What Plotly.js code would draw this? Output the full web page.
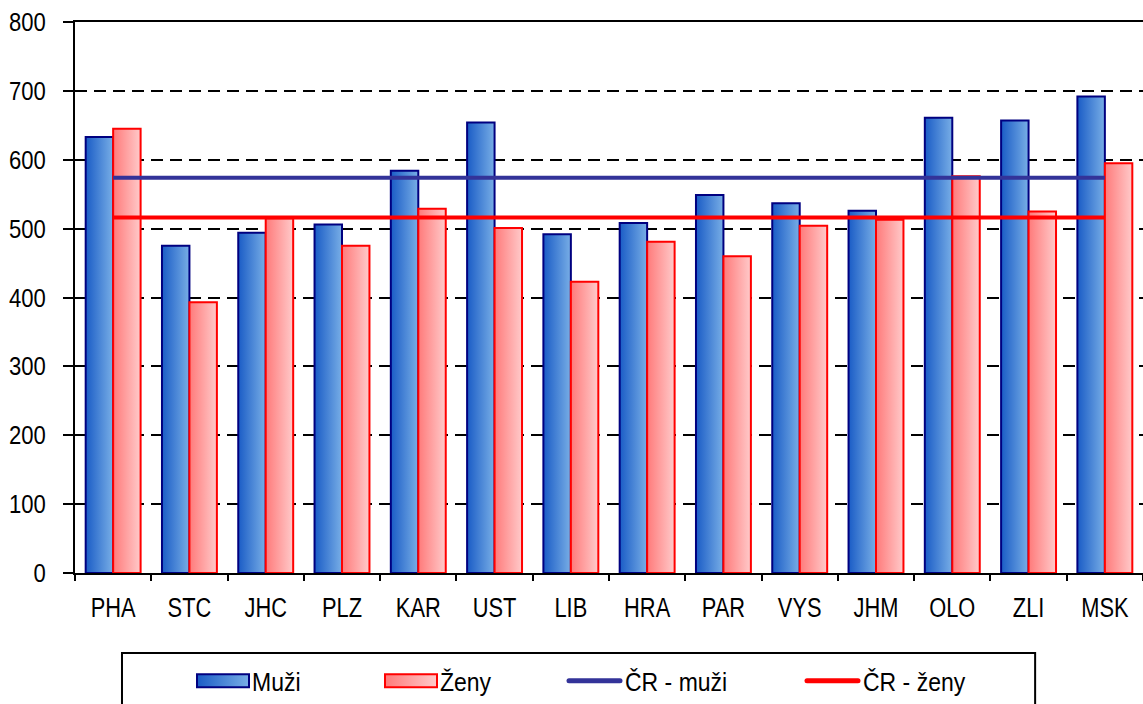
<!DOCTYPE html>
<html>
<head>
<meta charset="utf-8">
<script src="https://cdn.plot.ly/plotly-3.0.1.min.js"></script>
<style>
html,body{margin:0;padding:0;background:#fff;}
#chart{width:1143px;height:704px;}
</style>
</head>
<body>
<div id="chart"></div>
<script>
const categories = ['PHA','STC','JHC','PLZ','KAR','UST','LIB','HRA','PAR','VYS','JHM','OLO','ZLI','MSK'];
const muzi = [633,475,494,506,584,654,492,508,549,537,526,661,657,692];
const zeny = [645,393,515,475,529,501,423,481,460,504,513,576,525,595];
const crMuzi = [574,574,574,574,574,574,574,574,574,574,574,574,574,574];
const crZeny = [516,516,516,516,516,516,516,516,516,516,516,516,516,516];
const seriesNames = ['Muži','Ženy','ČR - muži','ČR - ženy'];

const FONT = '"Liberation Sans", Arial, sans-serif';

const traces = [
  {type:'bar', name:seriesNames[0], x:categories, y:muzi,
   marker:{color:'#4a8ad8', line:{color:'#000080', width:2}}},
  {type:'bar', name:seriesNames[1], x:categories, y:zeny,
   marker:{color:'#ffa3a3', line:{color:'#ff0000', width:2}}},
  {type:'scatter', mode:'lines', name:seriesNames[2], x:categories, y:crMuzi,
   line:{color:'#333399', width:4}},
  {type:'scatter', mode:'lines', name:seriesNames[3], x:categories, y:crZeny,
   line:{color:'#ff0000', width:4}}
];

const layout = {
  width:1143, height:704,
  margin:{l:75, r:0, t:22, b:131},
  paper_bgcolor:'#fff', plot_bgcolor:'#fff',
  font:{family:FONT, size:21, color:'#000'},
  barmode:'group', bargap:0.28, bargroupgap:0,
  showlegend:true,
  legend:{orientation:'h', x:0.095, xanchor:'left', y:-0.155, yanchor:'top',
    font:{family:FONT, size:25, color:'#000'},
    entrywidth:170, entrywidthmode:'pixels', bgcolor:'rgba(0,0,0,0)', borderwidth:0},
  xaxis:{type:'category', showline:true, linecolor:'#000', linewidth:2, mirror:true,
    ticks:'outside', ticklen:6, tickwidth:2, tickcolor:'#000', tickson:'boundaries',
    ticklabelstandoff:8, showgrid:false, zeroline:false,
    tickfont:{family:FONT, size:28}},
  yaxis:{range:[0,800], dtick:100, showline:true, linecolor:'#000', linewidth:2,
    ticks:'outside', ticklen:10, tickwidth:2, tickcolor:'#000', ticklabelstandoff:12,
    showgrid:true, gridcolor:'#000', gridwidth:2, griddash:'12px,7px', zeroline:false,
    tickfont:{family:FONT, size:26}},
  shapes:[{type:'rect', xref:'paper', yref:'paper', x0:0.044, x1:0.899, y0:-0.145, y1:-0.26,
    line:{color:'#000', width:2}, fillcolor:'rgba(0,0,0,0)', layer:'above'}]
};

const gd = document.getElementById('chart');
const SVGNS = 'http://www.w3.org/2000/svg';

function condense(el, s){
  if(el.dataset.cond) return;
  const x = parseFloat(el.getAttribute('x')) || 0;
  const y = parseFloat(el.getAttribute('y')) || 0;
  const t = el.getAttribute('transform') || '';
  el.setAttribute('transform', t + ' translate(' + x + ',' + y + ') scale(' + s + ',1) translate(' + (-x) + ',' + (-y) + ')');
  el.dataset.cond = '1';
}

function postProcess(){
  const svg = gd.querySelector('svg.main-svg');
  if(!svg) return;
  let defs = svg.querySelector('defs');
  if(!defs){ defs = document.createElementNS(SVGNS,'defs'); svg.insertBefore(defs, svg.firstChild); }
  const mk = (id, c1, c2) => {
    if(defs.querySelector('#'+id)) return;
    const g = document.createElementNS(SVGNS,'linearGradient');
    g.setAttribute('id', id); g.setAttribute('x1','0'); g.setAttribute('x2','1'); g.setAttribute('y1','0'); g.setAttribute('y2','0');
    [[0,c1],[1,c2]].forEach(([o,c])=>{
      const s = document.createElementNS(SVGNS,'stop');
      s.setAttribute('offset', o); s.setAttribute('stop-color', c); g.appendChild(s);
    });
    defs.appendChild(g);
  };
  mk('gradBlue', '#1a5cc6', '#78aee6');
  mk('gradRed', '#ff7a7a', '#ffcaca');
  const grads = ['url(#gradBlue)','url(#gradRed)'];
  gd.querySelectorAll('.barlayer .trace').forEach((t,i)=>{
    t.querySelectorAll('.point path').forEach(p=>{ p.style.fill = grads[i]; });
  });

  gd.querySelectorAll('.xtick text').forEach(el=>condense(el, 0.78));
  gd.querySelectorAll('.ytick text').forEach(el=>condense(el, 0.85));

  const desired = [197, 385, 567, 805];
  gd.querySelectorAll('.legend .traces').forEach((g,i)=>{
    if(g.dataset.done) return;
    const txt = g.querySelector('text.legendtext');
    let textGap;
    if(i < 2){
      g.querySelectorAll('.legendpoints path').forEach(p=>{
        const m = p.getCTM();
        const x0 = desired[i] - (m ? m.e : 0);
        p.setAttribute('d', 'M' + x0 + ',-6.5h52v13h-52Z');
        p.style.fill = grads[i];
        p.style.strokeWidth = '2px';
      });
      textGap = 55;
    } else {
      g.querySelectorAll('.legendlines path').forEach(p=>{
        const m = p.getCTM();
        const x0 = desired[i] - (m ? m.e : 0);
        p.setAttribute('d', 'M' + (x0+2) + ',0h51');
        p.style.strokeWidth = '5px';
        p.style.strokeLinecap = 'round';
      });
      textGap = 58;
    }
    if(txt){
      const m = txt.getCTM();
      txt.setAttribute('x', desired[i] + textGap - (m ? m.e : 0));
      condense(txt, 0.92);
    }
    g.dataset.done = '1';
  });
}

Plotly.newPlot(gd, traces, layout, {displayModeBar:false, staticPlot:true}).then(()=>{
  postProcess();
  gd.on('plotly_afterplot', postProcess);
});
</script>
</body>
</html>
